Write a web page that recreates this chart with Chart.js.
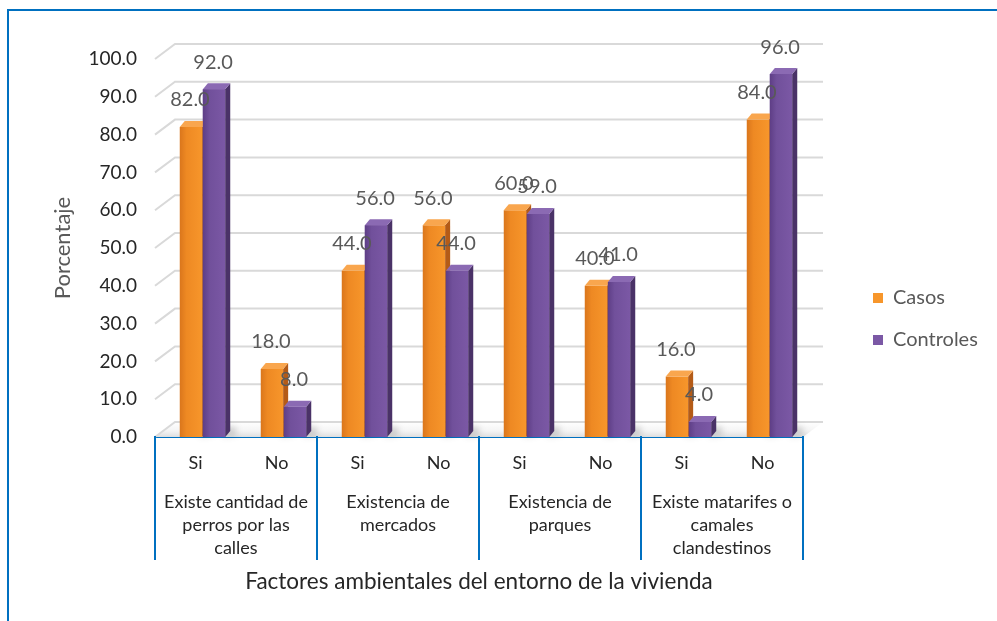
<!DOCTYPE html>
<html lang="es">
<head>
<meta charset="utf-8">
<title>Factores ambientales del entorno de la vivienda</title>
<script src="https://cdn.jsdelivr.net/npm/chart.js@4/dist/chart.umd.min.js"></script>
<style>
  html, body { margin: 0; padding: 0; background: #ffffff; }
  #stage { position: relative; width: 997px; height: 621px; overflow: hidden; background: #ffffff; }
  #chart { position: absolute; left: 0; top: 0; }
  #frame { position: absolute; left: 7px; top: 9px; width: 1100px; height: 700px;
           border-left: 2px solid #0070C0; border-top: 2px solid #0070C0; pointer-events: none; }
</style>
</head>
<body>
<div id="stage">
  <canvas id="chart" width="997" height="621"></canvas>
  <div id="frame"></div>
</div>
<script>
// ---------- data ----------
const categories = ['Si', 'No', 'Si', 'No', 'Si', 'No', 'Si', 'No'];
const groupLabels = [
  ['Existe cantidad de', 'perros por las', 'calles'],
  ['Existencia de', 'mercados'],
  ['Existencia de', 'parques'],
  ['Existe matarifes o', 'camales', 'clandestinos']
];
const seriesNames = ['Casos', 'Controles'];
const casos     = [82.0, 18.0, 44.0, 56.0, 60.0, 40.0, 16.0, 84.0];
const controles = [92.0,  8.0, 56.0, 44.0, 59.0, 41.0,  4.0, 96.0];
const yMin = 0, yMax = 100, yStep = 10;
const yTitle = 'Porcentaje';
const xTitle = 'Factores ambientales del entorno de la vivienda';

// ---------- layout & style ----------
const FONT = 'Lato, "Open Sans", sans-serif';
const W = 997, H = 621;
const PLOT = { left: 155, right: 803, top: 59, bottom: 437 };
const PAD_LEFT = 46, PAD_BOTTOM = 42;
const X_ROW_H = 44;
const X_GROUP_H = H - PLOT.bottom - X_ROW_H - PAD_BOTTOM;
const SEP_BOTTOM = 560;
const CAT_PCT = 0.57, BAR_PCT = 0.97;
const BAR_SHIFT = 7;              // columns drawn slightly right of the category centre (perspective)
const BAR_DX = 5, BAR_DY = 6;     // column depth
const WALL_DX = 20, WALL_DY = 15; // depth of the back wall / floor
const LEGEND_PAD = 22, LEGEND_BOX = 10, LEGEND_FONT = 20, LEGEND_BOX_X = 873;

const seriesStyle = [
  { front: ['#DA761C', '#EE8923', '#F7962B'], side: '#B45B17', top: '#F9A64E', key: '#EE8923' },
  { front: ['#5E3E86', '#71509B', '#7B58A5'], side: '#4A3267', top: '#8B6AB3', key: '#71509B' }
];

// legend width is known up front so the plot keeps its fixed right edge
const mctx = document.createElement('canvas').getContext('2d');
mctx.font = LEGEND_FONT + 'px ' + FONT;
const legendW = LEGEND_PAD + LEGEND_BOX + LEGEND_FONT / 2 +
  Math.max(...seriesNames.map(s => mctx.measureText(s).width)) + 10;
const legendLeft = LEGEND_BOX_X - LEGEND_PAD;
const PAD_RIGHT = W - legendLeft - legendW;

function frontFill(di) {
  const st = seriesStyle[di];
  return (c) => {
    const chart = c.chart, xs = chart.scales && chart.scales.x;
    if (c.type !== 'data' || !xs || !xs.width) return st.key;
    const catW = xs.width / categories.length;
    const slot = catW * CAT_PCT / 2;
    const cx = xs.getPixelForValue(c.dataIndex) + (di === 0 ? -slot / 2 : slot / 2);
    const w = slot * BAR_PCT;
    const g = chart.ctx.createLinearGradient(cx - w / 2, 0, cx + w / 2, 0);
    g.addColorStop(0, st.front[0]);
    g.addColorStop(0.3, st.front[1]);
    g.addColorStop(1, st.front[2]);
    return g;
  };
}

function drawFaces(ctx, bar, st, base) {
  const { x, y, width } = bar.getProps(['x', 'y', 'width'], true);
  const x0 = x - width / 2, x1 = x + width / 2;
  ctx.fillStyle = st.side;
  ctx.beginPath();
  ctx.moveTo(x1, y);
  ctx.lineTo(x1 + BAR_DX, y - BAR_DY);
  ctx.lineTo(x1 + BAR_DX, base - BAR_DY);
  ctx.lineTo(x1, base);
  ctx.closePath();
  ctx.fill();
  ctx.fillStyle = st.top;
  ctx.beginPath();
  ctx.moveTo(x0, y);
  ctx.lineTo(x1, y);
  ctx.lineTo(x1 + BAR_DX, y - BAR_DY);
  ctx.lineTo(x0 + BAR_DX, y - BAR_DY);
  ctx.closePath();
  ctx.fill();
}

// back wall, floor, column sides/tops, value labels and group separators
const columns3d = {
  id: 'columns3d',
  beforeDatasetsDraw(chart) {
    const { ctx, chartArea: a, scales: { y } } = chart;
    const base = y.getPixelForValue(0);
    ctx.save();
    // floor
    const fg = ctx.createLinearGradient(0, base - WALL_DY, 0, base);
    fg.addColorStop(0, '#ffffff');
    fg.addColorStop(0.6, '#f4f4f4');
    fg.addColorStop(1, '#dedede');
    ctx.fillStyle = fg;
    ctx.beginPath();
    ctx.moveTo(a.left, base);
    ctx.lineTo(a.right, base);
    ctx.lineTo(a.right + WALL_DX, base - WALL_DY);
    ctx.lineTo(a.left + WALL_DX, base - WALL_DY);
    ctx.closePath();
    ctx.fill();
    // grid on side and back wall
    ctx.strokeStyle = '#d9d9d9';
    ctx.lineWidth = 2;
    y.ticks.forEach(t => {
      const py = y.getPixelForValue(t.value);
      ctx.beginPath();
      ctx.moveTo(a.left, py);
      ctx.lineTo(a.left + WALL_DX, py - WALL_DY);
      ctx.lineTo(a.right + WALL_DX, py - WALL_DY);
      ctx.stroke();
    });
    ctx.restore();
    // soft floor shadows behind the columns
    ctx.save();
    ctx.translate(BAR_SHIFT, 0);
    ctx.filter = 'blur(3px)';
    ctx.fillStyle = 'rgba(0,0,0,0.16)';
    chart.data.datasets.forEach((d, di) => {
      chart.getDatasetMeta(di).data.forEach(bar => {
        const x1 = bar.x + bar.width / 2;
        ctx.beginPath();
        ctx.moveTo(x1 - 2, base);
        ctx.lineTo(x1 + BAR_DX + 6, base - 2);
        ctx.lineTo(x1 + BAR_DX + 6, base - BAR_DY - 4);
        ctx.lineTo(x1 - 2, base - BAR_DY - 4);
        ctx.closePath();
        ctx.fill();
      });
    });
    ctx.restore();
    ctx.save();
    ctx.translate(BAR_SHIFT, 0);
  },
  afterDatasetsDraw(chart) {
    const { ctx, scales: { y } } = chart;
    const base = y.getPixelForValue(0);
    const metas = chart.data.datasets.map((d, i) => chart.getDatasetMeta(i));
    metas.forEach((meta, di) => {
      if (di > 0) meta.data.forEach(bar => bar.draw(ctx, chart.chartArea));
      meta.data.forEach(bar => drawFaces(ctx, bar, seriesStyle[di], base));
    });
    ctx.fillStyle = '#595959';
    ctx.font = '20px ' + FONT;
    ctx.textAlign = 'center';
    ctx.textBaseline = 'middle';
    metas.forEach((meta, di) => {
      const vals = chart.data.datasets[di].data;
      meta.data.forEach((bar, i) => {
        ctx.fillText(vals[i].toFixed(1), bar.x - 1, bar.y - 27);
      });
    });
    ctx.restore();
  },
  afterDraw(chart) {
    const { ctx, scales: { x } } = chart;
    const catW = x.width / categories.length;
    ctx.save();
    ctx.strokeStyle = '#0070C0';
    ctx.lineWidth = 2;
    for (let k = 0; k <= groupLabels.length; k++) {
      const idx = Math.min(2 * k, categories.length - 1);
      const px = Math.round(x.getPixelForValue(idx) + (2 * k > categories.length - 1 ? catW / 2 : -catW / 2));
      ctx.beginPath();
      ctx.moveTo(px, x.top - 1);
      ctx.lineTo(px, SEP_BOTTOM);
      ctx.stroke();
    }
    ctx.restore();
  }
};

new Chart(document.getElementById('chart'), {
  type: 'bar',
  data: {
    labels: categories,
    datasets: [
      { label: seriesNames[0], data: casos, backgroundColor: frontFill(0), borderWidth: 0,
        categoryPercentage: CAT_PCT, barPercentage: BAR_PCT },
      { label: seriesNames[1], data: controles, backgroundColor: frontFill(1), borderWidth: 0,
        categoryPercentage: CAT_PCT, barPercentage: BAR_PCT }
    ]
  },
  options: {
    responsive: false,
    animation: false,
    events: [],
    devicePixelRatio: 1,
    layout: { padding: { left: PAD_LEFT, top: PLOT.top, right: PAD_RIGHT, bottom: PAD_BOTTOM } },
    plugins: {
      tooltip: { enabled: false },
      legend: {
        position: 'right',
        align: 'center',
        labels: {
          boxWidth: LEGEND_BOX, boxHeight: LEGEND_BOX, padding: LEGEND_PAD,
          color: '#595959', font: { family: FONT, size: LEGEND_FONT }
        }
      }
    },
    scales: {
      x: {
        type: 'category', offset: true, weight: 0,
        grid: { display: false, drawTicks: false },
        border: { display: true, color: '#0070C0', width: 2 },
        ticks: { color: '#262626', font: { family: FONT, size: 18 }, padding: 15, maxRotation: 0, autoSkip: false },
        afterFit: s => { s.height = X_ROW_H; }
      },
      x2: {
        type: 'category', labels: groupLabels, offset: true, position: 'bottom', weight: 1,
        grid: { display: false, drawTicks: false },
        border: { display: false },
        ticks: { color: '#262626', font: { family: FONT, size: 18, lineHeight: 1.3 }, padding: 9, maxRotation: 0, autoSkip: false },
        title: { display: true, text: xTitle, color: '#262626', font: { family: FONT, size: 22.5 }, padding: { top: 4, bottom: -16 } },
        afterFit: s => { s.height = X_GROUP_H; }
      },
      y: {
        min: yMin, max: yMax,
        grid: { display: false, drawTicks: false },
        border: { display: false },
        ticks: { stepSize: yStep, callback: v => Number(v).toFixed(1), color: '#262626', font: { family: FONT, size: 19 }, padding: 18 },
        title: { display: true, text: yTitle, color: '#595959', font: { family: FONT, size: 22 }, padding: { top: 4, bottom: 4 } },
        afterFit: s => { s.width = PLOT.left - PAD_LEFT; }
      },
      yR: {
        position: 'right', min: yMin, max: yMax, weight: 0,
        grid: { display: false, drawTicks: false },
        border: { display: false },
        ticks: { display: false },
        afterFit: s => { s.width = legendLeft - PLOT.right; }
      }
    }
  },
  plugins: [columns3d]
});
</script>
</body>
</html>
